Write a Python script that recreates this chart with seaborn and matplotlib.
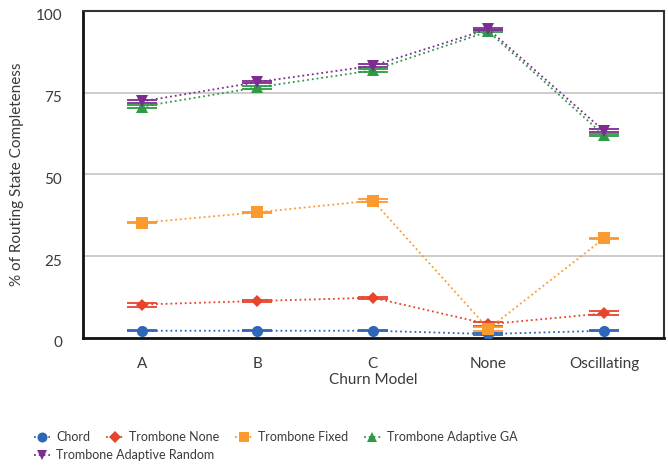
import matplotlib
matplotlib.use("Agg")
import matplotlib.pyplot as plt
import matplotlib.transforms as mtransforms
import seaborn as sns
import pandas as pd
import numpy as np

# values
churn_models = ["A", "B", "C", "None", "Oscillating"]
chord = [2.2, 2.2, 2.2, 1.2, 2.2]
trombone_none = [10.2, 11.3, 12.3, 4.2, 7.5]
trombone_fixed = [35.2, 38.4, 42.0, 2.8, 30.4]
trombone_ga = [70.7, 76.6, 81.8, 93.7, 62.0]
trombone_random = [72.3, 78.2, 83.2, 94.4, 63.3]

chord_err = [0.2, 0.2, 0.2, 0.3, 0.2]
none_err = [0.6, 0.2, 0.3, 0.6, 0.6]
fixed_err = [0.2, 0.2, 0.5, 0.6, 0.2]
ga_err = [0.4, 0.4, 0.4, 0.3, 0.3]
random_err = [0.4, 0.4, 0.4, 0.3, 0.5]

series_names = ["Chord", "Trombone None", "Trombone Fixed",
                "Trombone Adaptive GA", "Trombone Adaptive Random"]
series_vals = [chord, trombone_none, trombone_fixed, trombone_ga, trombone_random]
series_errs = [chord_err, none_err, fixed_err, ga_err, random_err]
colors = ["#2f66b8", "#e8432b", "#fb9a2f", "#2e9a45", "#7d2c91"]
markers = ["o", "D", "s", "^", "v"]
msizes = [8, 6.5, 8, 8, 8]

rows = []
for name, vals in zip(series_names, series_vals):
    for m, v in zip(churn_models, vals):
        rows.append({"model": m, "series": name, "value": v})
df = pd.DataFrame(rows)

sns.set_style("white")
plt.rcParams["font.family"] = ["Lato", "DejaVu Sans"]
text_color = "#3a3a3a"

fig = plt.figure(figsize=(6.68, 4.70), dpi=100)
ax = fig.add_axes([0.124, 0.281, 0.87, 0.696])

ax.set_ylim(0, 100)
ax.set_yticks([0, 25, 50, 75, 100])
for yv in [25, 50, 75]:
    ax.axhline(yv, color="#c4c4c4", lw=1.2, zorder=0)

xpos = np.arange(len(churn_models))
handles = []
for name, vals, errs, c, mk, ms in zip(series_names, series_vals, series_errs,
                                       colors, markers, msizes):
    sub = df[df.series == name].copy()
    sub["x"] = xpos
    sns.lineplot(data=sub, x="x", y="value", ax=ax, color=c, linestyle=":",
                 lw=1.3, marker=mk, markersize=ms, markeredgewidth=0,
                 label=name, legend=False, zorder=3)
    ax.errorbar(xpos, vals, yerr=errs, fmt="none", ecolor=c, elinewidth=1.2,
                capsize=10.5, capthick=1.3, zorder=2)
    handles.append(plt.Line2D([], [], color=c, linestyle=":", lw=1.3,
                              marker=mk, markersize=ms * 0.9, markeredgewidth=0))

ax.set_xlim(-0.51, 4.52)
ax.set_xticks(xpos)
ax.set_xticklabels(churn_models)
ax.tick_params(axis="both", length=0, labelsize=11, colors=text_color)
ax.tick_params(axis="x", pad=14)
ax.tick_params(axis="y", pad=15)
shift = mtransforms.ScaledTranslation(0, -4 / 100, fig.dpi_scale_trans)
for lbl in ax.get_yticklabels():
    lbl.set_transform(lbl.get_transform() + shift)
ax.set_xlabel("Churn Model", fontsize=11, color=text_color, labelpad=1)
ax.set_ylabel("% of Routing State Completeness", fontsize=11,
              color=text_color, labelpad=8)

for side in ["left", "bottom"]:
    ax.spines[side].set_color("#111111")
    ax.spines[side].set_linewidth(2)
for side in ["top", "right"]:
    ax.spines[side].set_color("#333333")
    ax.spines[side].set_linewidth(1.5)

leg1 = fig.legend(handles[:4], series_names[:4], ncol=4, loc="center left",
                  bbox_to_anchor=(0.043, 0.07), frameon=False, fontsize=9,
                  handlelength=1.3, handletextpad=0.5, columnspacing=1.3,
                  labelcolor=text_color, borderaxespad=0)
leg2 = fig.legend(handles[4:], series_names[4:], loc="center left",
                  bbox_to_anchor=(0.043, 0.032), frameon=False, fontsize=9,
                  handlelength=1.3, handletextpad=0.5,
                  labelcolor=text_color, borderaxespad=0)

fig.savefig("out.png", dpi=100)
